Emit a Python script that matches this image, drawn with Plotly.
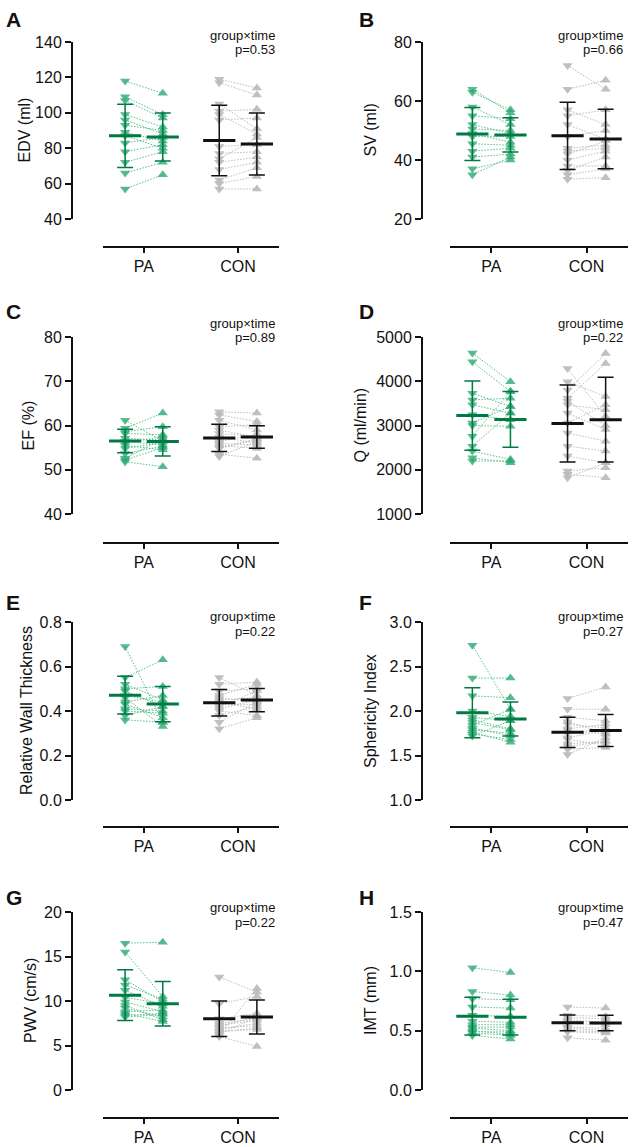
import plotly.graph_objects as go

W, H = 634, 1147

# ---- data (pre = before, post = after) ----
groups = ["PA", "CON"]

# A  EDV (ml)
edv_pa_pre = [118, 109, 107, 99, 96, 93, 89, 87, 83, 78, 72, 66, 57]
edv_pa_post = [111, 99, 97, 92, 88, 90, 84, 80, 86, 82, 78, 72, 65]
edv_con_pre = [119, 117, 105, 101, 99, 96, 81, 77, 74, 72, 68, 62, 60, 57]
edv_con_post = [114, 110, 91, 102, 88, 97, 82, 78, 86, 75, 72, 69, 64, 57]
edv_mean = [87.0, 86.3, 84.3, 82.4]
edv_sd = [17.9, 13.6, 19.9, 17.5]

# B  SV (ml)
sv_pa_pre = [64, 63, 58, 55, 52, 50.5, 49, 48, 45.5, 43, 41, 37, 35]
sv_pa_post = [56, 57, 52, 54, 49, 50, 46, 48, 45, 44, 42, 40, 41]
sv_con_pre = [72, 64, 57, 55, 52, 48, 44, 43, 42, 40, 38, 36.5, 35, 33.5]
sv_con_post = [64, 67, 52, 57, 47, 50, 45, 44, 46.5, 43, 38, 41, 37, 34]
sv_mean = [48.8, 48.5, 48.2, 47.1]
sv_sd = [9.0, 5.8, 11.4, 10.1]

# C  EF (%)
ef_pa_pre = [61.2, 59.4, 58.6, 58.2, 57.1, 56.4, 56.0, 55.5, 54.8, 53.7, 52.6, 51.8, 52.2]
ef_pa_post = [56.5, 62.8, 59.7, 57.9, 56.7, 55.6, 57.5, 54.5, 56.2, 55.3, 57.0, 50.7, 55.0]
ef_con_pre = [63.1, 62.4, 61.2, 59.7, 58.2, 57.4, 56.4, 55.5, 54.8, 53.5, 59.0, 56.0, 55.0, 53.0]
ef_con_post = [62.8, 60.9, 59.0, 60.2, 57.5, 56.0, 58.0, 54.8, 56.8, 52.6, 57.3, 55.5, 57.0, 56.4]
ef_mean = [56.5, 56.4, 57.2, 57.4]
ef_sd = [2.65, 3.3, 3.1, 2.55]

# D  Q (ml/min)
q_pa_pre = [4641, 4439, 3729, 3579, 3467, 3243, 3056, 3000, 2757, 2533, 2421, 2271, 2196]
q_pa_post = [3991, 3766, 3430, 3617, 3280, 3131, 3430, 2981, 3766, 3280, 2234, 2159, 2200]
q_con_pre = [4290, 3991, 3804, 3617, 3467, 3280, 3056, 2832, 2533, 2308, 1972, 1897, 1822, 3550]
q_con_post = [3206, 3654, 4626, 4402, 3355, 2907, 3467, 2645, 2421, 2159, 2047, 1822, 2159, 3000]
q_mean = [3224, 3138, 3045, 3131]
q_sd = [781, 628, 871, 957]

# E  Relative wall thickness
rwt_pa_pre = [0.69, 0.55, 0.52, 0.50, 0.49, 0.47, 0.46, 0.44, 0.43, 0.41, 0.40, 0.38, 0.36]
rwt_pa_post = [0.35, 0.63, 0.45, 0.51, 0.42, 0.44, 0.33, 0.47, 0.37, 0.40, 0.39, 0.42, 0.35]
rwt_con_pre = [0.55, 0.52, 0.49, 0.46, 0.45, 0.44, 0.42, 0.41, 0.40, 0.38, 0.35, 0.32, 0.47, 0.43]
rwt_con_post = [0.47, 0.53, 0.50, 0.44, 0.46, 0.41, 0.49, 0.45, 0.38, 0.42, 0.44, 0.37, 0.52, 0.43]
rwt_mean = [0.471, 0.431, 0.437, 0.449]
rwt_sd = [0.085, 0.079, 0.060, 0.052]

# F  Sphericity index
si_pa_pre = [2.74, 2.37, 2.17, 2.00, 1.93, 1.87, 1.81, 1.76, 1.72, 1.84, 1.90, 1.79, 1.74]
si_pa_post = [2.02, 2.37, 2.15, 1.94, 1.89, 1.79, 1.72, 1.65, 1.89, 2.02, 1.80, 1.75, 1.68]
si_con_pre = [2.14, 2.02, 1.93, 1.85, 1.78, 1.70, 1.63, 1.57, 1.51, 1.80, 1.75, 1.68, 1.88, 1.60]
si_con_post = [2.27, 2.02, 1.89, 1.81, 1.74, 1.78, 1.66, 1.59, 1.70, 1.85, 1.80, 1.62, 1.75, 1.66]
si_mean = [1.98, 1.91, 1.76, 1.78]
si_sd = [0.28, 0.19, 0.17, 0.18]

# G  PWV (cm/s)
pwv_pa_pre = [16.5, 15.5, 12.4, 11.8, 11.2, 9.9, 9.2, 8.6, 8.2, 8.8, 9.5, 8.4, 10.4]
pwv_pa_post = [16.6, 10.5, 9.9, 10.2, 9.4, 8.8, 8.2, 7.7, 8.5, 9.0, 7.9, 8.6, 9.7]
pwv_con_pre = [12.7, 8.0, 7.1, 6.8, 6.5, 6.2, 6.0, 7.5, 7.3, 6.6, 9.7, 7.0, 6.3]
pwv_con_post = [11.0, 8.6, 8.3, 7.5, 7.0, 11.4, 4.9, 8.0, 7.8, 6.8, 10.5, 7.2, 8.2]
pwv_mean = [10.65, 9.7, 8.0, 8.2]
pwv_sd = [2.85, 2.5, 2.0, 1.9]

# H  IMT (mm)
imt_pa_pre = [1.03, 0.83, 0.77, 0.70, 0.63, 0.58, 0.53, 0.49, 0.46, 0.52, 0.55, 0.50, 0.48]
imt_pa_post = [0.99, 0.80, 0.76, 0.69, 0.62, 0.57, 0.53, 0.49, 0.43, 0.50, 0.55, 0.47, 0.46]
imt_con_pre = [0.70, 0.63, 0.59, 0.53, 0.49, 0.44, 0.56, 0.61, 0.52, 0.58, 0.50]
imt_con_post = [0.69, 0.62, 0.57, 0.52, 0.48, 0.42, 0.55, 0.60, 0.50, 0.57, 0.49]
imt_mean = [0.622, 0.614, 0.566, 0.565]
imt_sd = [0.159, 0.150, 0.066, 0.065]

panels = [
    ("A", "EDV (ml)", edv_pa_pre, edv_pa_post, edv_con_pre, edv_con_post, edv_mean, edv_sd, [40, 140], 20, None, "p=0.53"),
    ("B", "SV (ml)", sv_pa_pre, sv_pa_post, sv_con_pre, sv_con_post, sv_mean, sv_sd, [20, 80], 20, None, "p=0.66"),
    ("C", "EF (%)", ef_pa_pre, ef_pa_post, ef_con_pre, ef_con_post, ef_mean, ef_sd, [40, 80], 10, None, "p=0.89"),
    ("D", "Q (ml/min)", q_pa_pre, q_pa_post, q_con_pre, q_con_post, q_mean, q_sd, [1000, 5000], 1000, None, "p=0.22"),
    ("E", "Relative Wall Thickness", rwt_pa_pre, rwt_pa_post, rwt_con_pre, rwt_con_post, rwt_mean, rwt_sd, [0, 0.8], 0.2, ".1f", "p=0.22"),
    ("F", "Sphericity Index", si_pa_pre, si_pa_post, si_con_pre, si_con_post, si_mean, si_sd, [1.0, 3.0], 0.5, ".1f", "p=0.27"),
    ("G", "PWV (cm/s)", pwv_pa_pre, pwv_pa_post, pwv_con_pre, pwv_con_post, pwv_mean, pwv_sd, [0, 20], 5, None, "p=0.22"),
    ("H", "IMT (mm)", imt_pa_pre, imt_pa_post, imt_con_pre, imt_con_post, imt_mean, imt_sd, [0, 1.5], 0.5, ".1f", "p=0.47"),
]

# ---- layout in pixels ----
cols = [dict(yline=72, x0=103, x1=279, text_r=277, title_x=24, letter_x=4),
        dict(yline=422, x0=450, x1=628, text_r=625, title_x=370, letter_x=357)]
rows = [dict(top=42, bot=219, xline=247, letter_y=6, txt=35),
        dict(top=337, bot=514, xline=543, letter_y=298, txt=323),
        dict(top=622, bot=800, xline=827, letter_y=589, txt=616),
        dict(top=912, bot=1090, xline=1118, letter_y=884, txt=907)]
title_dx = [0, 0, 4, -10, 2, 0, 6, 0]

FONT = "Liberation Sans, Arial, sans-serif"
dark_green = "#007a43"
pt_green = "rgba(45,170,115,0.8)"
ln_green = "rgba(70,185,130,0.9)"
pt_gray = "rgba(185,185,185,0.9)"
ln_gray = "rgba(180,180,180,0.9)"
black = "#111111"

centers = [1, 3]
off = 0.4

def px_x(p):
    return p / W

def px_y(p):
    return 1 - p / H

fig = go.Figure()
annotations = []
layout = {}

for i, (letter, ytitle, pa_pre, pa_post, con_pre, con_post, means, sds, yr, dt, fmt, ptxt) in enumerate(panels):
    c = cols[i % 2]
    r = rows[i // 2]
    n = i + 1
    xa = "x" if n == 1 else f"x{n}"
    ya = "y" if n == 1 else f"y{n}"

    for g, (pre, post) in enumerate([(pa_pre, pa_post), (con_pre, con_post)]):
        cx = centers[g]
        lc = ln_green if g == 0 else ln_gray
        pc = pt_green if g == 0 else pt_gray
        mc = dark_green if g == 0 else black
        # paired lines
        lx, ly = [], []
        for a, b in zip(pre, post):
            lx += [cx - off, cx + off, None]
            ly += [a, b, None]
        fig.add_trace(go.Scatter(x=lx, y=ly, mode="lines", xaxis=xa, yaxis=ya,
                                 line=dict(color=lc, width=1, dash="1.5px,1.5px"),
                                 showlegend=False, hoverinfo="skip"))
        fig.add_trace(go.Scatter(x=[cx - off] * len(pre), y=pre, mode="markers", xaxis=xa, yaxis=ya,
                                 marker=dict(symbol="triangle-down", size=9, color=pc),
                                 showlegend=False, cliponaxis=False))
        fig.add_trace(go.Scatter(x=[cx + off] * len(post), y=post, mode="markers", xaxis=xa, yaxis=ya,
                                 marker=dict(symbol="triangle-up", size=9, color=pc),
                                 showlegend=False, cliponaxis=False))
        # mean +/- SD
        fig.add_trace(go.Scatter(x=[cx - off, cx + off], y=means[2 * g:2 * g + 2], mode="markers",
                                 xaxis=xa, yaxis=ya,
                                 marker=dict(symbol="line-ew", size=23, color=mc,
                                             line=dict(width=3, color=mc)),
                                 error_y=dict(type="data", array=sds[2 * g:2 * g + 2], visible=True,
                                              color=mc, thickness=1.5, width=8),
                                 showlegend=False, cliponaxis=False))

    layout["xaxis" if n == 1 else f"xaxis{n}"] = dict(
        domain=[px_x(c["x0"]), px_x(c["x1"])], anchor="free", position=px_y(r["xline"]),
        range=[0.13, 3.87], tickvals=centers, ticktext=groups, automargin=False,
        showline=True, linewidth=2, linecolor=black, ticks="outside", ticklen=5, tickwidth=2,
        tickcolor=black, tickfont=dict(size=16, color=black, family=FONT),
        showgrid=False, zeroline=False, fixedrange=True)
    layout["yaxis" if n == 1 else f"yaxis{n}"] = dict(
        domain=[px_y(r["bot"]), px_y(r["top"])], anchor="free", position=px_x(c["yline"]),
        range=yr, dtick=dt, tick0=yr[0], tickformat=fmt, automargin=False,
        showline=True, linewidth=2, linecolor=black, ticks="outside", ticklen=6, tickwidth=2,
        tickcolor=black, tickfont=dict(size=16, color=black, family=FONT),
        showgrid=False, zeroline=False, fixedrange=True)

    annotations.append(dict(text=ytitle, textangle=-90, xref="paper", yref="paper",
                            x=px_x(c["title_x"] + title_dx[i]), y=px_y((r["top"] + r["bot"]) / 2),
                            xanchor="center", yanchor="middle", showarrow=False,
                            font=dict(size=16, color=black, family=FONT)))
    annotations.append(dict(text=f"<b>{letter}</b>", xref="paper", yref="paper",
                            x=px_x(c["letter_x"]), y=px_y(r["letter_y"]),
                            xanchor="left", yanchor="top", showarrow=False,
                            font=dict(size=21, color=black, family=FONT)))
    annotations.append(dict(text="group×time", xref="paper", yref="paper",
                            x=px_x(c["text_r"]), y=px_y(r["txt"]),
                            xanchor="right", yanchor="middle", showarrow=False,
                            font=dict(size=13, color=black, family=FONT)))
    annotations.append(dict(text=ptxt, xref="paper", yref="paper",
                            x=px_x(c["text_r"]), y=px_y(r["txt"] + 15),
                            xanchor="right", yanchor="middle", showarrow=False,
                            font=dict(size=13, color=black, family=FONT)))

fig.update_layout(template="none", width=W, height=H, margin=dict(l=0, r=0, t=0, b=0, pad=0),
                  paper_bgcolor="white", plot_bgcolor="white",
                  font=dict(family=FONT, color=black), annotations=annotations,
                  showlegend=False, **layout)

fig.write_html("out.html", config={"displayModeBar": False},
               post_script="document.body.style.margin='0';document.body.style.overflow='hidden';")
